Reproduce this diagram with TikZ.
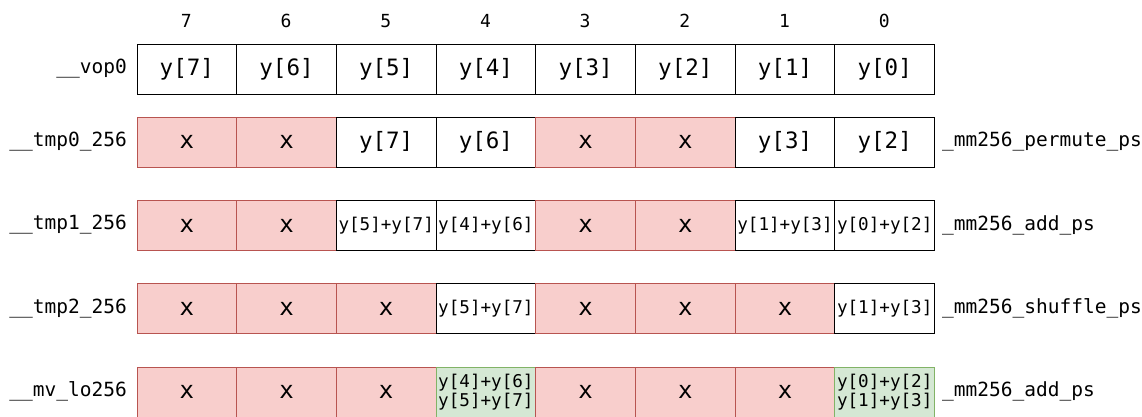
\documentclass[tikz,border=0pt]{standalone}
\usepackage{fontspec}
\setmainfont{DejaVu Sans Mono}
\setmonofont{DejaVu Sans Mono}
\definecolor{redfill}{HTML}{F8CECC}
\definecolor{redline}{HTML}{B85450}
\definecolor{greenfill}{HTML}{D5E8D4}
\definecolor{greenline}{HTML}{82B366}
\begin{document}
\begin{tikzpicture}[x=1pt,y=-1pt,
  cell/.style={anchor=north west, minimum width=99.7pt, minimum height=50pt, inner sep=0pt, line width=0.9pt, font=\fontsize{22.5}{24}\selectfont},
  wcell/.style={cell, draw=black, fill=white},
  xcell/.style={cell, draw=redline, fill=redfill, font=\fontsize{24}{24}\selectfont},
  gcell/.style={cell, draw=greenline, fill=greenfill, align=center, font=\fontsize{17.6}{19}\selectfont},
  small/.style={font=\fontsize{17.6}{20}\selectfont},
  idx/.style={font=\fontsize{18}{18}\selectfont},
  rlab/.style={anchor=east, font=\fontsize{19.5}{22}\selectfont, inner sep=0pt},
  oplab/.style={anchor=west, font=\fontsize{19.5}{22}\selectfont, inner sep=0pt}]
\useasboundingbox (0,0) rectangle (1142,416);
\def\xa{136.5}
\def\cw{99.7}
% index row
\foreach \i [count=\c from 0] in {7,6,5,4,3,2,1,0}{
  \node[idx] (idx\i) at ({\xa+\c*\cw+\cw/2},21) {\i};
}
% row 1
\node[rlab] (lab1) at (127,68.5) {\_\_vop0};
\foreach \i [count=\c from 0] in {7,6,5,4,3,2,1,0}{
  \node[wcell] (a\i) at ({\xa+\c*\cw},43.5) {y[\i]};
}
% row 2
\node[rlab] (lab2) at (127,141.7) {\_\_tmp0\_256};
\node[xcell] (b7) at ({\xa+0*\cw},116.7) {x};
\node[xcell] (b6) at ({\xa+1*\cw},116.7) {x};
\node[wcell] (b5) at ({\xa+2*\cw},116.7) {y[7]};
\node[wcell] (b4) at ({\xa+3*\cw},116.7) {y[6]};
\node[xcell] (b3) at ({\xa+4*\cw},116.7) {x};
\node[xcell] (b2) at ({\xa+5*\cw},116.7) {x};
\node[wcell] (b1) at ({\xa+6*\cw},116.7) {y[3]};
\node[wcell] (b0) at ({\xa+7*\cw},116.7) {y[2]};
\node[oplab] (op2) at (942,141.7) {\_mm256\_permute\_ps};
% row 3
\node[rlab] (lab3) at (127,225) {\_\_tmp1\_256};
\node[xcell] (c7) at ({\xa+0*\cw},200) {x};
\node[xcell] (c6) at ({\xa+1*\cw},200) {x};
\node[wcell,small] (c5) at ({\xa+2*\cw},200) {y[5]+y[7]};
\node[wcell,small] (c4) at ({\xa+3*\cw},200) {y[4]+y[6]};
\node[xcell] (c3) at ({\xa+4*\cw},200) {x};
\node[xcell] (c2) at ({\xa+5*\cw},200) {x};
\node[wcell,small] (c1) at ({\xa+6*\cw},200) {y[1]+y[3]};
\node[wcell,small] (c0) at ({\xa+7*\cw},200) {y[0]+y[2]};
\node[oplab] (op3) at (942,225) {\_mm256\_add\_ps};
% row 4
\node[rlab] (lab4) at (127,308.3) {\_\_tmp2\_256};
\node[xcell] (d7) at ({\xa+0*\cw},283.3) {x};
\node[xcell] (d6) at ({\xa+1*\cw},283.3) {x};
\node[xcell] (d5) at ({\xa+2*\cw},283.3) {x};
\node[wcell,small] (d4) at ({\xa+3*\cw},283.3) {y[5]+y[7]};
\node[xcell] (d3) at ({\xa+4*\cw},283.3) {x};
\node[xcell] (d2) at ({\xa+5*\cw},283.3) {x};
\node[xcell] (d1) at ({\xa+6*\cw},283.3) {x};
\node[wcell,small] (d0) at ({\xa+7*\cw},283.3) {y[1]+y[3]};
\node[oplab] (op4) at (942,308.3) {\_mm256\_shuffle\_ps};
% row 5
\node[rlab] (lab5) at (127,391.7) {\_\_mv\_lo256};
\node[xcell] (e7) at ({\xa+0*\cw},366.7) {x};
\node[xcell] (e6) at ({\xa+1*\cw},366.7) {x};
\node[xcell] (e5) at ({\xa+2*\cw},366.7) {x};
\node[gcell] (e4) at ({\xa+3*\cw},366.7) {y[4]+y[6]\\y[5]+y[7]};
\node[xcell] (e3) at ({\xa+4*\cw},366.7) {x};
\node[xcell] (e2) at ({\xa+5*\cw},366.7) {x};
\node[xcell] (e1) at ({\xa+6*\cw},366.7) {x};
\node[gcell] (e0) at ({\xa+7*\cw},366.7) {y[0]+y[2]\\y[1]+y[3]};
\node[oplab] (op5) at (942,391.7) {\_mm256\_add\_ps};
\end{tikzpicture}
\end{document}
